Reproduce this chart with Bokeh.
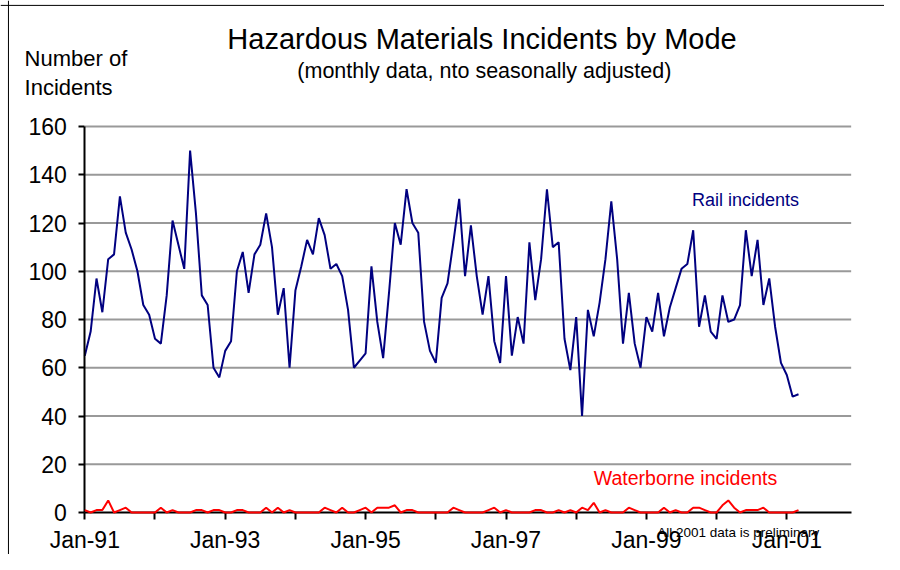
from bokeh.plotting import figure
from bokeh.models import Range1d, FixedTicker, Label, LinearAxis, Span
from bokeh.embed import file_html
from bokeh.resources import INLINE

# Monthly data, Jan-1991 .. Mar-2001
rail = [65, 75, 97, 83, 105, 107, 131, 116, 109, 100,
        86, 82, 72, 70, 90, 121, 111, 101, 150, 124,
        90, 86, 60, 56, 67, 71, 100, 108, 91, 107,
        111, 124, 110, 82, 93, 60, 92, 102, 113, 107,
        122, 115, 101, 103, 98, 84, 60, 63, 66, 102,
        79, 64, 91, 120, 111, 134, 120, 116, 79, 67,
        62, 89, 95, 112, 130, 98, 119, 98, 82, 98,
        71, 62, 98, 65, 81, 70, 112, 88, 105, 134,
        110, 112, 72, 59, 81, 40, 84, 73, 87, 105,
        129, 105, 70, 91, 70, 60, 81, 75, 91, 73,
        85, 93, 101, 103, 117, 77, 90, 75, 72, 90,
        79, 80, 86, 117, 98, 113, 86, 97, 77, 62,
        57, 48, 49]

waterborne = [1, 0, 1, 1, 5, 0, 1, 2, 0, 0,
              0, 0, 0, 2, 0, 1, 0, 0, 0, 1,
              1, 0, 1, 1, 0, 0, 1, 1, 0, 0,
              0, 2, 0, 2, 0, 1, 0, 0, 0, 0,
              0, 2, 1, 0, 2, 0, 0, 1, 2, 0,
              2, 2, 2, 3, 0, 1, 1, 0, 0, 0,
              0, 0, 0, 2, 1, 0, 0, 0, 0, 1,
              2, 0, 1, 0, 0, 0, 0, 1, 1, 0,
              0, 1, 0, 1, 0, 2, 1, 4, 0, 1,
              0, 0, 0, 2, 1, 0, 0, 0, 0, 2,
              0, 1, 0, 0, 2, 2, 1, 0, 0, 3,
              5, 2, 0, 1, 1, 1, 2, 0, 0, 0,
              0, 0, 1]

x_tick_labels = ["Jan-91", "Jan-93", "Jan-95", "Jan-97", "Jan-99", "Jan-01"]
y_ticks = [0, 20, 40, 60, 80, 100, 120, 140, 160]

X_AXIS_END = 131      # month index where the x axis stops (Dec-01)
Y_AXIS_END = 160

months = list(range(len(rail)))
label_ticks = [24 * i for i in range(len(x_tick_labels))]          # every 2 years
year_ticks = [12 * i for i in range(2 * len(x_tick_labels) - 1)]  # every year
unlabeled_ticks = [t for t in year_ticks if t not in label_ticks]

FONT = "Liberation Sans"

W, H = 884, 554
p = figure(width=W, height=H, output_backend="svg", toolbar_location=None,
           x_axis_type=None, y_axis_type=None,
           x_range=Range1d(-14.41, 136.7), y_range=Range1d(-17.41, 212.23),
           min_border=0)
p.outline_line_color = None
p.background_fill_color = "white"
p.border_fill_color = "white"

# chart-area border (top and left edges)
p.add_layout(Span(location=210.2, dimension="width", line_color="black", line_width=1))
p.add_layout(Span(location=-13.05, dimension="height", line_color="black", line_width=1))

# horizontal grid lines (gray) at the y tick values above zero
grid_vals = y_ticks[1:]
p.segment(x0=[0] * len(grid_vals), x1=[X_AXIS_END] * len(grid_vals),
          y0=grid_vals, y1=grid_vals, line_color="#999999", line_width=2)

# axes placed at the data origin
xaxis = LinearAxis(fixed_location=0, bounds=(0, X_AXIS_END),
                   ticker=FixedTicker(ticks=label_ticks, minor_ticks=unlabeled_ticks))
xaxis.major_label_overrides = {t: lab for t, lab in zip(label_ticks, x_tick_labels)}
xaxis.major_tick_out = 7
xaxis.minor_tick_out = 7
xaxis.minor_tick_in = 0
xaxis.minor_tick_line_color = "black"
xaxis.minor_tick_line_width = 2
xaxis.major_label_standoff = 8

yaxis = LinearAxis(fixed_location=0, bounds=(0, Y_AXIS_END),
                   ticker=FixedTicker(ticks=y_ticks))
yaxis.major_tick_out = 6
yaxis.major_label_standoff = 12
yaxis.minor_tick_line_color = None

for ax in (xaxis, yaxis):
    ax.axis_line_color = "black"
    ax.axis_line_width = 2
    ax.major_tick_line_color = "black"
    ax.major_tick_line_width = 2
    ax.major_tick_in = 0
    ax.major_label_text_font = FONT
    ax.major_label_text_font_size = "23px"
    ax.major_label_text_color = "black"

p.add_layout(xaxis, "below")
p.add_layout(yaxis, "left")

# series
p.line(months, rail, line_color="#000080", line_width=2)
p.line(months, waterborne, line_color="#FF0000", line_width=2, level="overlay")

# texts
def add_text(x, y, text, size, color="black", align="left"):
    p.add_layout(Label(x=x, y=y, text=text, text_align=align,
                       text_baseline="alphabetic", text_font=FONT,
                       text_font_size=size, text_color=color))

add_text(67.9, 196.3, "Hazardous Materials Incidents by Mode", "29px", align="center")
add_text(68.3, 183.2, "(monthly data, nto seasonally adjusted)", "21.5px", align="center")
add_text(-10.3, 188.2, "Number of", "22px")
add_text(-10.3, 176.2, "Incidents", "22px")
add_text(103.8, 129.5, "Rail incidents", "18px", color="#000080")
add_text(87.0, 14.3, "Waterborne  incidents", "19.5px", color="#FF0000")
add_text(97.85, -8.1, "All 2001 data is preliminary", "13.5px")

open("out.html", "w").write(file_html(p, INLINE))
